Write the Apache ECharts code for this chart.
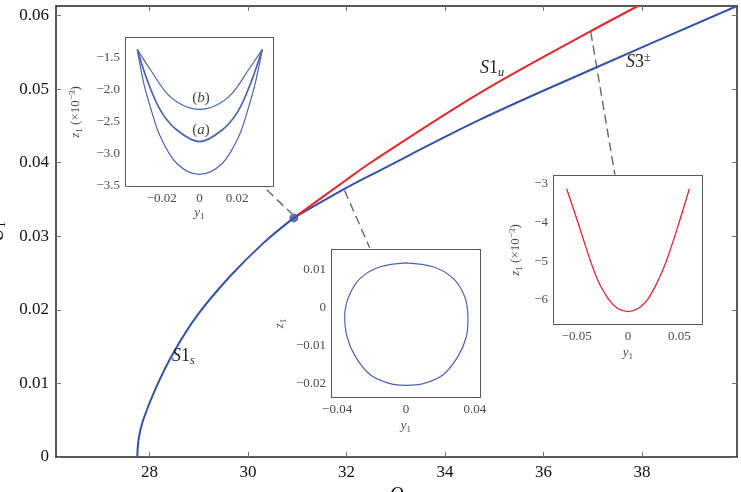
<!DOCTYPE html>
<html>
<head>
<meta charset="utf-8">
<script src="https://cdn.jsdelivr.net/npm/echarts@6/dist/echarts.min.js"></script>
<style>
  html, body { margin: 0; padding: 0; background: #fff; }
  #chart { width: 741px; height: 492px; }
</style>
</head>
<body>
<div id="chart"></div>
<script>
// main bifurcation diagram (Q, U1)
const qTicks = [28, 30, 32, 34, 36, 38];
const uTicks = [0, 0.01, 0.02, 0.03, 0.04, 0.05, 0.06];

const s1sQ = [27.75, 27.78, 27.87, 28.14, 28.48, 28.95, 29.63, 30.31, 30.93];
const s1sU = [0, 0.0025, 0.00503, 0.00956, 0.01411, 0.01909, 0.02453, 0.02907, 0.0325];

const s3Q = [30.93, 31.93, 32.48, 34.71, 37.08, 39.93];
const s3U = [0.0325, 0.03633, 0.03827, 0.04585, 0.05297, 0.0613];

const s1uQ = [30.93, 32.0, 32.48, 34.71, 36.96, 37.92];
const s1uU = [0.0325, 0.03769, 0.03996, 0.04948, 0.05787, 0.0613];

const branchPoint = [30.93, 0.0325];

// dashed leaders from the curves to the insets
const lead1 = [[30.38, 0.03633], [30.89, 0.03306]];
const lead2 = [[31.96, 0.03623], [32.47, 0.02844]];
const lead3 = [[36.96, 0.05778], [37.45, 0.03837]];

// inset 1 (top left): orbits (a), (b) and the outer one
const in1xTicks = [-0.02, 0, 0.02];
const in1yTicks = [-3.5, -3.0, -2.5, -2.0, -1.5];
const outerY = [-0.0330, -0.0296, -0.0261, -0.0208, -0.0120, 0, 0.0120, 0.0208, 0.0261, 0.0296, 0.0333];
const outerZ = [-1.38, -1.90, -2.27, -2.73, -3.15, -3.32, -3.15, -2.73, -2.27, -1.90, -1.38];
const orbAY = [-0.0330, -0.0278, -0.0208, -0.0120, 0, 0.0120, 0.0208, 0.0278, 0.0333];
const orbAZ = [-1.38, -1.85, -2.32, -2.63, -2.81, -2.63, -2.32, -1.85, -1.38];
const orbBY = [-0.0330, -0.0261, -0.0173, -0.0085, 0, 0.0085, 0.0173, 0.0261, 0.0333];
const orbBZ = [-1.38, -1.69, -2.06, -2.25, -2.31, -2.25, -2.06, -1.69, -1.38];

// inset 2 (middle): closed orbit
const in2xTicks = [-0.04, 0, 0.04];
const in2yTicks = [-0.02, -0.01, 0, 0.01];
const loopY = [0, -0.0150, -0.0266, -0.0333, -0.0356, -0.0343, -0.0295, -0.0208, -0.0092, 0, 0.0100, 0.0216, 0.0302, 0.0351, 0.0360, 0.0341, 0.0274, 0.0158, 0];
const loopZ = [0.01165, 0.0106, 0.00757, 0.00278, -0.00243, -0.00765, -0.01287, -0.01765, -0.0200, -0.02043, -0.0200, -0.01765, -0.01287, -0.00765, -0.00287, 0.00278, 0.00757, 0.0106, 0.01165];

// inset 3 (right): red orbit
const in3xTicks = [-0.05, 0, 0.05];
const in3yTicks = [-6, -5, -4, -3];
const redY = [-0.0597, -0.0487, -0.0364, -0.028, -0.0185, -0.010, 0, 0.010, 0.0188, 0.028, 0.0373, 0.0497, 0.0597];
const redZ = [-3.13, -4.0, -5.0, -5.57, -6.0, -6.22, -6.30, -6.22, -6.0, -5.57, -5.0, -4.0, -3.13];

const zip = (a, b) => a.map((v, i) => [v, b[i]]);
const SERIF = 'Liberation Serif';
const BLUE = '#3552a6';
const RED = '#e4262d';
const INBLUE = '#4b63b3';

function fmt(digits) {
    return v => {
        if (Math.abs(v) < 1e-12) return '0';
        const s = digits != null ? Math.abs(v).toFixed(digits) : String(+Math.abs(v).toPrecision(6));
        return (v < 0 ? '\u2212' : '') + s;
    };
}

const richName = {
    i: { fontStyle: 'italic', fontFamily: SERIF },
    s: { fontFamily: SERIF, padding: [7, 0, 0, 0] },
    p: { fontFamily: SERIF, padding: [0, 0, 7, 0] }
};

// bottom/left axis with labels plus a mirrored top/right axis with ticks only
function axes(dim, gi, min, max, ticks, o) {
    const line = { show: true, onZero: false, lineStyle: { color: '#222', width: o.lw } };
    const tick = { show: true, inside: true, length: o.tl, customValues: ticks, lineStyle: { color: '#777', width: 1 } };
    const main = {
        type: 'value', gridIndex: gi, min: min, max: max,
        position: dim === 'x' ? 'bottom' : 'left',
        axisLine: line, axisTick: tick, splitLine: { show: false },
        axisLabel: {
            customValues: ticks, formatter: o.fmt, color: o.color,
            fontSize: o.fs, fontFamily: SERIF, margin: o.margin
        }
    };
    if (o.name) {
        main.name = o.name;
        main.nameLocation = 'middle';
        main.nameGap = o.gap;
        main.nameRotate = dim === 'y' ? 90 : 0;
        main.nameTextStyle = {
            color: o.color, fontSize: o.nfs, fontFamily: SERIF,
            rich: {
                i: Object.assign({}, richName.i, { fontSize: o.nfs, color: o.color }),
                s: Object.assign({}, richName.s, { fontSize: o.nfs * 0.7, color: o.color }),
                p: Object.assign({}, richName.p, { fontSize: o.nfs * 0.7, color: o.color })
            }
        };
    }
    const mirror = {
        type: 'value', gridIndex: gi, min: min, max: max,
        position: dim === 'x' ? 'top' : 'right',
        axisLine: line, axisTick: tick, splitLine: { show: false },
        axisLabel: { show: false }
    };
    return [main, mirror];
}

const mainOpt = { lw: 1.5, tl: 5, fs: 17, color: '#111', margin: 7, nfs: 19 };
const inOpt = { lw: 1.5, tl: 4, fs: 13, color: '#4a4a4a', margin: 6, nfs: 13 };

const xAxis = [].concat(
    axes('x', 0, 26.1, 39.93, qTicks, Object.assign({}, mainOpt, { fmt: fmt(), name: '{i|Q}', gap: 26 })),
    axes('x', 1, -0.039, 0.039, in1xTicks, Object.assign({}, inOpt, { fmt: fmt(), name: '{i|y}{s|1}', gap: 19 })),
    axes('x', 2, -0.043, 0.043, in2xTicks, Object.assign({}, inOpt, { fmt: fmt(), name: '{i|y}{s|1}', gap: 21 })),
    axes('x', 3, -0.072, 0.072, in3xTicks, Object.assign({}, inOpt, { fmt: fmt(), name: '{i|y}{s|1}', gap: 21 }))
);
const yAxis = [].concat(
    axes('y', 0, 0, 0.0613, uTicks, Object.assign({}, mainOpt, { fmt: fmt(), name: '{i|U}{s|1}', gap: 45 })),
    axes('y', 1, -3.5, -1.2, in1yTicks, Object.assign({}, inOpt, { fmt: fmt(1), name: '{i|z}{s|1} (\u00d710{p|\u22123})', gap: 42 })),
    axes('y', 2, -0.0235, 0.015, in2yTicks, Object.assign({}, inOpt, { fmt: fmt(), name: '{i|z}{s|1}', gap: 44 })),
    axes('y', 3, -6.62, -2.80, in3yTicks, Object.assign({}, inOpt, { fmt: fmt(), name: '{i|z}{s|1} (\u00d710{p|\u22123})', gap: 30 }))
);

const insetGrid = { show: true, backgroundColor: '#fff', borderWidth: 0, outerBoundsMode: 'none', containLabel: false };

function curve(name, xi, data, color, width, z) {
    return {
        name: name, type: 'line', xAxisIndex: xi, yAxisIndex: xi,
        data: data, showSymbol: false, smooth: 0.35, z: z || 3,
        lineStyle: { color: color, width: width }, silent: true
    };
}
function leader(data) {
    return {
        type: 'line', xAxisIndex: 0, yAxisIndex: 0, data: data, showSymbol: false, z: 2,
        lineStyle: { color: '#666', width: 1.4, type: [9, 5] }, silent: true
    };
}

const chart = echarts.init(document.getElementById('chart'), null, { renderer: 'canvas' });

const textStyle = (text, x, y, fs, color, align) => ({
    type: 'text', x: x, y: y, z: 20,
    style: {
        text: text, fill: color || '#222', fontSize: fs, fontFamily: SERIF,
        align: align || 'left', verticalAlign: 'middle',
        rich: {
            i: { fontStyle: 'italic', fontSize: fs, fontFamily: SERIF, fill: color || '#222' },
            n: { fontSize: fs, fontFamily: SERIF, fill: color || '#222' },
            s: { fontStyle: 'italic', fontSize: fs * 0.68, fontFamily: SERIF, fill: color || '#222', padding: [9, 0, 0, 0] },
            p: { fontSize: fs * 0.68, fontFamily: SERIF, fill: color || '#222', padding: [0, 0, 9, 0] }
        }
    }
});

chart.setOption({
    animation: false,
    backgroundColor: '#fff',
    grid: [
        { left: 56, right: 4, top: 6, bottom: 35, outerBoundsMode: 'none', containLabel: false },
        Object.assign({ left: 126, top: 38, width: 147, height: 148, z: 5 }, insetGrid),
        Object.assign({ left: 332, top: 250, width: 148, height: 147, z: 5 }, insetGrid),
        Object.assign({ left: 554, top: 176, width: 148, height: 148, z: 5 }, insetGrid)
    ],
    xAxis: xAxis,
    yAxis: yAxis,
    series: [
        leader(lead1), leader(lead2), leader(lead3),
        curve('S1s', 0, zip(s1sQ, s1sU), BLUE, 2),
        curve('S3', 0, zip(s3Q, s3U), BLUE, 2),
        curve('S1u', 0, zip(s1uQ, s1uU), RED, 2),
        {
            type: 'scatter', xAxisIndex: 0, yAxisIndex: 0, data: [branchPoint],
            symbolSize: 9, itemStyle: { color: BLUE }, z: 4, silent: true
        },
        curve('outer', 2, zip(outerY, outerZ), INBLUE, 1.2, 6),
        curve('a', 2, zip(orbAY, orbAZ), INBLUE, 1.7, 6),
        curve('b', 2, zip(orbBY, orbBZ), INBLUE, 1.2, 6),
        curve('loop', 4, zip(loopY, loopZ), INBLUE, 1.2, 6),
        curve('red', 6, zip(redY, redZ), RED, 1.3, 6)
    ],
    graphic: [
        textStyle('{i|S}{n|1}{s|u}', 480, 68, 18),
        textStyle('{i|S}{n|3}{p|\u00b1}', 626, 62, 18),
        textStyle('{i|S}{n|1}{s|s}', 172, 356, 18),
        textStyle('({i|b})', 201, 98, 15, '#444', 'center'),
        textStyle('({i|a})', 201, 130, 15, '#444', 'center')
    ]
});
</script>
</body>
</html>
